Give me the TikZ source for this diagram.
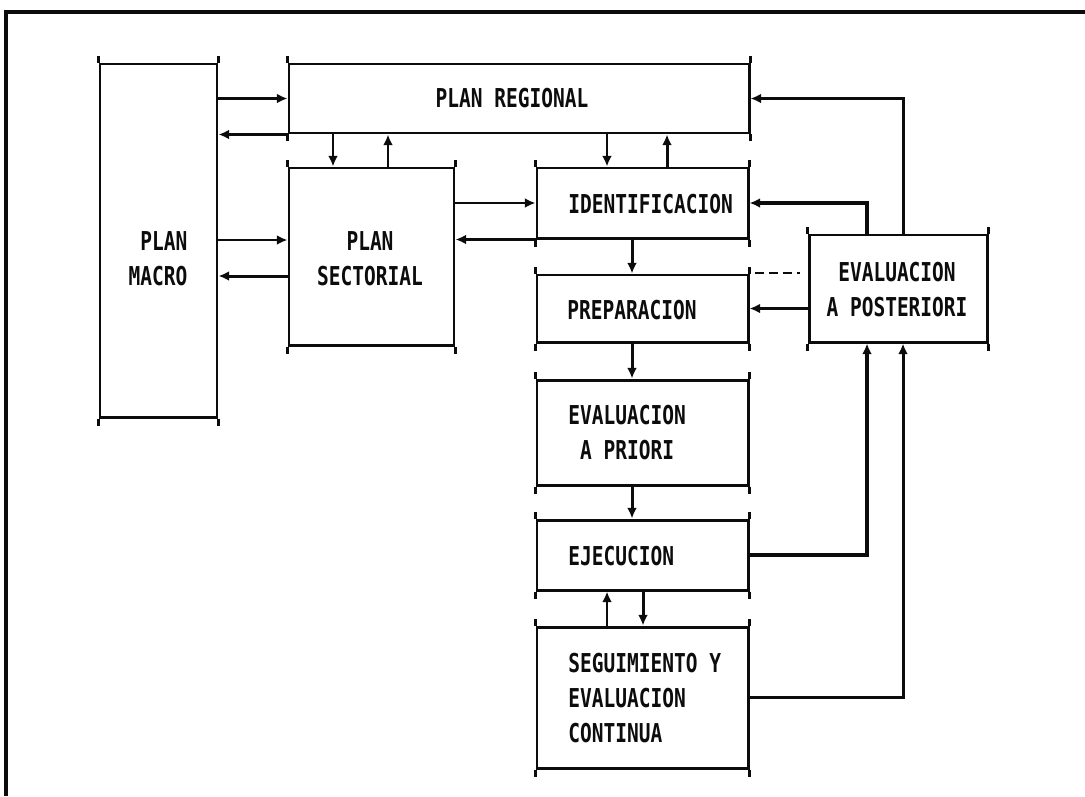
\documentclass[tikz,border=0pt]{standalone}
\usepackage{fontspec}
\usepackage{tikz}
\usetikzlibrary{calc,arrows.meta,positioning}
\newfontfamily\plotfont[FakeStretch=0.75]{DejaVu Sans Mono}
\definecolor{inkblack}{RGB}{12,12,12}

\begin{document}
\begin{tikzpicture}[x=0.2mm, y=-0.2mm,
  cornertick/.style={draw=inkblack, line width=1.2pt},
  ticked/.style={append after command={
    (\tikzlastnode.north west) edge[cornertick] ++(0,-7)
    (\tikzlastnode.north east) edge[cornertick] ++(0,-7)
    (\tikzlastnode.south west) edge[cornertick] ++(0,7)
    (\tikzlastnode.south east) edge[cornertick] ++(0,7)}},
  box/.style={draw=inkblack, line width=1.7pt, minimum width=42.2mm, inner sep=0pt, ticked},
  txt/.style={inner sep=0pt, text=inkblack, font=\plotfont\bfseries\fontsize{14.8}{19.9}\selectfont},
  arr/.style={draw=inkblack, line width=1.7pt, -{Latex[length=6pt,width=5.5pt]}},
  heavy/.style={line width=2.8pt}]
\useasboundingbox (0,0) rectangle (1085,796);

% frame of the page
\draw[inkblack, line width=2.2pt] (1085,12) -- (6,12) -- (6,796);

% planning boxes
\node[box, minimum width=23.4mm, minimum height=70.6mm] (macro) at (158.5,240.5) {};
\node[box, minimum width=92mm, minimum height=13.8mm] (regional) at (519,98.5) {};
\node[box, minimum width=33mm, minimum height=35.4mm] (sectorial) at (371.5,256.5) {};

% project cycle
\node[box, minimum height=14mm] (ident) at (642.5,203) {};
\node[box, minimum height=13.4mm] (prep) at (642.5,308.5) {};
\node[box, minimum height=21mm] (priori) at (642.5,432.5) {};
\node[box, minimum height=14mm] (ejec) at (642.5,555) {};
\node[box, minimum height=28.2mm] (seg) at (642.5,697.5) {};
\node[box, minimum width=35.6mm, minimum height=21.4mm] (post) at (898,288.5) {};

% texts
\node[txt, align=right] (tmacro) at (158,259) {PLAN\\MACRO};
\node[txt] (tregional) at (512,98) {PLAN REGIONAL};
\node[txt, align=center] (tsectorial) at (370,259) {PLAN\\SECTORIAL};
\node[txt, anchor=west] (tident) at (568,204) {IDENTIFICACION};
\node[txt, anchor=west] (tprep) at (567,310) {PREPARACION};
\node[txt, anchor=west, align=center] (tpriori) at (568,433) {EVALUACION\\A PRIORI};
\node[txt, anchor=west] (tejec) at (568,556) {EJECUCION};
\node[txt, anchor=west, align=left] (tseg) at (568,698) {SEGUIMIENTO Y\\EVALUACION\\CONTINUA};
\node[txt, align=center] (tpost) at (897,290) {EVALUACION\\A POSTERIORI};

% links between plans
\draw[arr] (macro.east |- regional.west) -- (regional.west);
\draw[arr] (regional.south west) -- (macro.east |- regional.south west);
\draw[arr] (regional.south -| 333,0) -- (sectorial.north -| 333,0);
\draw[arr] (sectorial.north -| 388,0) -- (regional.south -| 388,0);
\draw[arr] (macro.east |- 0,240) -- (sectorial.west |- 0,240);
\draw[arr] (sectorial.west |- 0,276) -- (macro.east |- 0,276);
\draw[arr] (sectorial.east |- ident.west) -- (ident.west);
\draw[arr] (ident.south west) -- (sectorial.east |- ident.south west);
\draw[arr] (regional.south -| 607,0) -- (ident.north -| 607,0);
\draw[arr] (ident.north -| 667,0) -- (regional.south -| 667,0);

% down the cycle
\draw[arr] (ident.south -| 632,0) -- (prep.north -| 632,0);
\draw[arr] (prep.south -| 632,0) -- (priori.north -| 632,0);
\draw[arr] (priori.south -| 632,0) -- (ejec.north -| 632,0);
\draw[arr] (ejec.south -| 643,0) -- (seg.north -| 643,0);
\draw[arr] (seg.north -| 607,0) -- (ejec.south -| 607,0);

% feedback of the evaluation
\draw[arr, heavy] (ejec.east) -| (post.south -| 867,0);
\draw[arr] (seg.east) -| (post.south -| 903,0);
\draw[arr] (post.north -| 903,0) |- (regional.east);
\draw[arr, heavy] (post.north -| 867,0) |- (ident.east);
\draw[arr] (post.west |- prep.east) -- (prep.east);
\draw[inkblack, line width=1.5pt, dash pattern=on 5pt off 3pt, shorten <=3pt, shorten >=4pt] (prep.east |- 0,273) -- (post.west |- 0,273);
\end{tikzpicture}
\end{document}
